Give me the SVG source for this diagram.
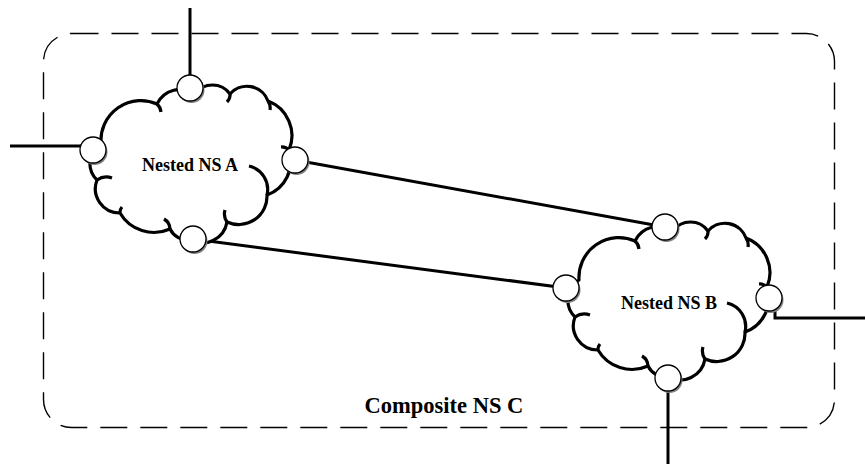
<svg xmlns="http://www.w3.org/2000/svg" width="865" height="464" viewBox="0 0 865 464">
<style>
.border{fill:none;stroke:#000;stroke-width:1.4;stroke-dasharray:27 13}
.cloud{fill:#fff;stroke:#000;stroke-width:3.2;stroke-linejoin:round}
.curl{fill:none;stroke:#000;stroke-width:3.2;stroke-linecap:butt}
.conn{fill:none;stroke:#000;stroke-width:3}
.port{fill:#fff;stroke:#000;stroke-width:1.3}
.shadow{fill:#808080}
.lbl{font-family:"Liberation Serif","Times New Roman",serif;font-weight:bold;fill:#000;text-anchor:middle}
</style>
<defs>
<g id="cloudShape">
<path class="cloud" d="M 101 143 A 40 40 0 0 1 157 104 A 26 26 0 0 1 195 94 A 21.5 21.5 0 0 1 230 94 A 22.4 22.4 0 0 1 268 101 A 37 37 0 0 1 289 150 A 36 36 0 0 1 267 195 A 28.3 28.3 0 0 1 227 222 A 25.3 25.3 0 0 1 190 240 A 20 20 0 0 1 170 229 A 39.4 39.4 0 0 1 120 213 A 24.3 24.3 0 0 1 97 180 A 23.7 23.7 0 0 1 101 143 Z"/>
<path class="curl" d="M 157 104 A 12 12 0 0 1 161 112 M 230 94 A 10 10 0 0 1 227 102 M 268 101 A 12 12 0 0 1 270 110 M 289 150 A 10 10 0 0 0 281 147 M 267 195 A 24 24 0 0 0 249 166 M 227 222 A 14 14 0 0 1 225 210 M 170 229 A 12 12 0 0 0 164 219 M 120 213 A 8 8 0 0 1 122 207 M 97 180 A 16 16 0 0 1 112 178"/>
</g>
<g id="port">
<circle class="shadow" cx="1.5" cy="2" r="13"/>
<circle class="port" cx="0" cy="0" r="13"/>
</g>
</defs>
<g id="compositeC">
<rect class="border" x="43.5" y="33.5" width="791" height="394" rx="28" ry="28"/>
<text class="lbl" x="444" y="413" font-size="22.5">Composite NS C</text>
</g>
<g id="connectors">
<line class="conn" x1="190" y1="8" x2="190" y2="88"/>
<line class="conn" x1="10" y1="146" x2="93" y2="146"/>
<line class="conn" x1="295" y1="160" x2="665" y2="227"/>
<line class="conn" x1="193" y1="239" x2="566" y2="288"/>
<path class="conn" d="M 775 300 L 775 318 L 865 318"/>
<line class="conn" x1="668" y1="378" x2="668" y2="464"/>
</g>
<g id="nestedA">
<use href="#cloudShape"/>
<text class="lbl" x="190" y="171" font-size="18">Nested NS A</text>
<use href="#port" x="190" y="88"/>
<use href="#port" x="93" y="150"/>
<use href="#port" x="295" y="160"/>
<use href="#port" x="193" y="239"/>
</g>
<g id="nestedB">
<use href="#cloudShape" transform="translate(478,137)"/>
<text class="lbl" x="669" y="309" font-size="18">Nested NS B</text>
<use href="#port" x="665" y="227"/>
<use href="#port" x="566" y="288"/>
<use href="#port" x="769" y="298"/>
<use href="#port" x="668" y="378"/>
</g>
</svg>
